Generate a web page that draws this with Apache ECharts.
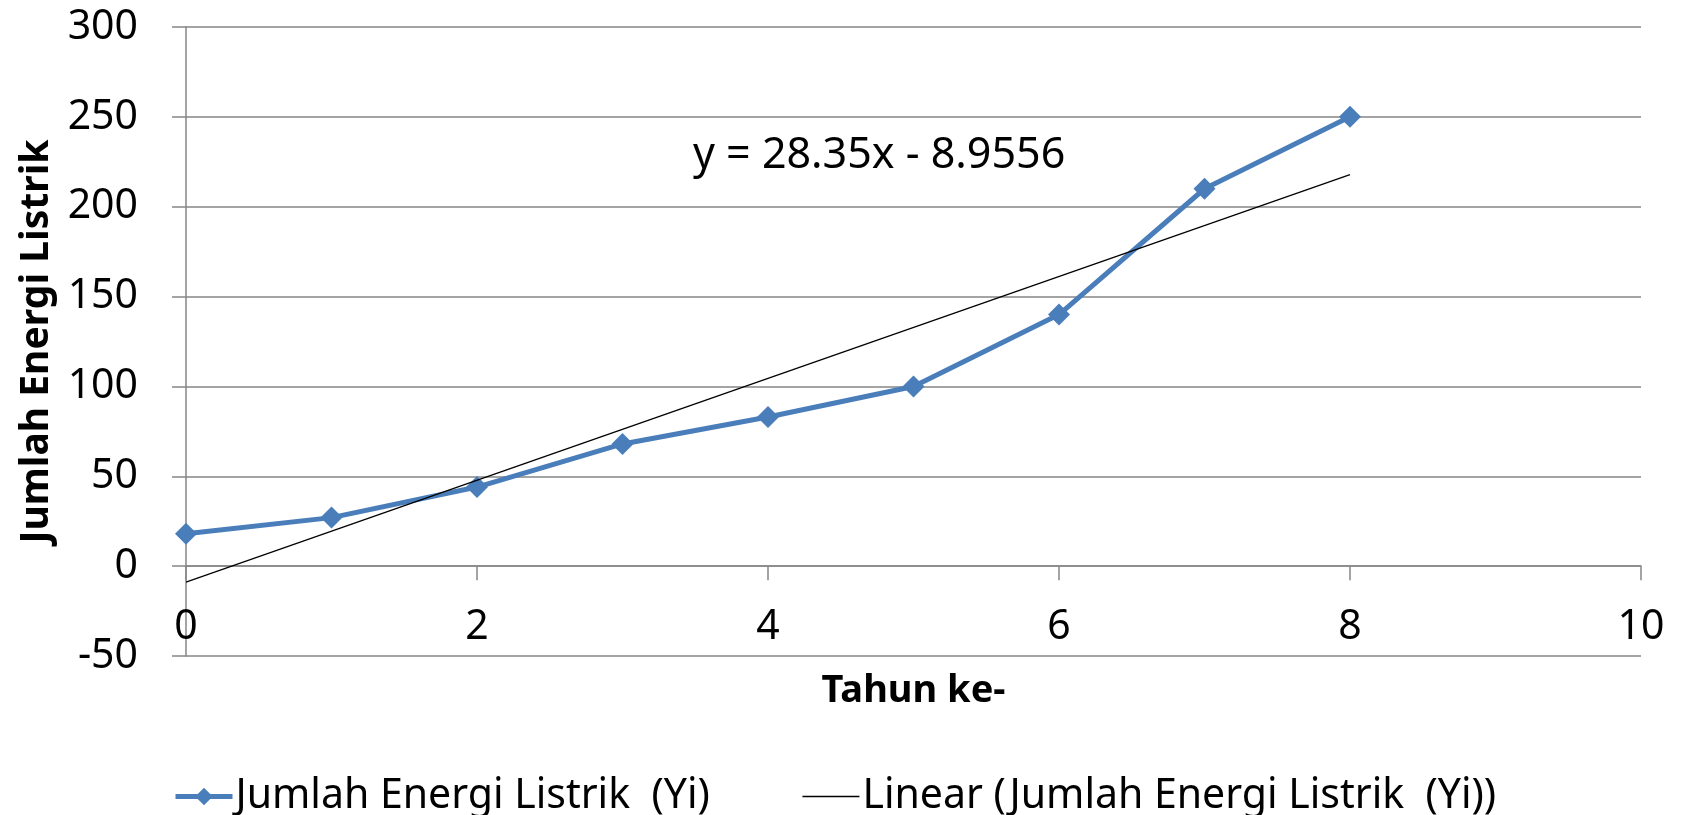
<!DOCTYPE html>
<html>
<head>
<meta charset="utf-8">
<script src="https://cdn.jsdelivr.net/npm/echarts@6/dist/echarts.min.js"></script>
<style>
html,body{margin:0;padding:0;background:#fff;}
#chart{width:1684px;height:815px;}
</style>
</head>
<body>
<div id="chart"></div>
<script>
// Data
const years = [0, 1, 2, 3, 4, 5, 6, 7, 8];
const energy = [18, 27, 44, 68, 83, 100, 140, 210, 250];
const seriesName = 'Jumlah Energi Listrik  (Yi)';
const trendName = 'Linear (Jumlah Energi Listrik  (Yi))';
const equationText = 'y = 28.35x - 8.9556';
const xTitle = 'Tahun ke-';
const yTitle = 'Jumlah Energi Listrik';

// least-squares trendline from the data
const n = years.length;
const mx = years.reduce((a, b) => a + b, 0) / n;
const my = energy.reduce((a, b) => a + b, 0) / n;
let sxy = 0, sxx = 0;
for (let i = 0; i < n; i++) { sxy += (years[i] - mx) * (energy[i] - my); sxx += (years[i] - mx) ** 2; }
const slope = sxy / sxx;
const intercept = my - slope * mx;
const xFirst = years[0], xLast = years[n - 1];
const trendData = [[xFirst, slope * xFirst + intercept], [xLast, slope * xLast + intercept]];
const mainData = years.map((x, i) => [x, energy[i]]);

const FONT = "'Noto Sans', sans-serif";
const chart = echarts.init(document.getElementById('chart'), null, {renderer: 'canvas'});
chart.setOption({
  animation: false,
  backgroundColor: '#ffffff',
  textStyle: {fontFamily: FONT, color: '#000'},
  grid: {left: 186, right: 43, top: 27, bottom: 159},
  xAxis: {
    type: 'value', min: 0, max: 10, interval: 2,
    name: xTitle, nameLocation: 'middle', nameGap: 16,
    nameTextStyle: {fontFamily: FONT, fontSize: 38, fontWeight: 'bold', color: '#000'},
    axisLine: {show: true, onZero: true, lineStyle: {color: '#868686', width: 1.5}},
    axisTick: {show: true, length: 14, lineStyle: {color: '#868686', width: 1.5}},
    axisLabel: {fontFamily: FONT, fontSize: 41, color: '#000', margin: -49},
    splitLine: {show: false}
  },
  yAxis: {
    type: 'value', min: -50, max: 300, interval: 50,
    name: yTitle, nameLocation: 'middle', nameGap: 128,
    nameTextStyle: {fontFamily: FONT, fontSize: 39, fontWeight: 'bold', color: '#000'},
    axisLine: {show: true, lineStyle: {color: '#868686', width: 1.5}},
    axisTick: {show: true, length: 14, lineStyle: {color: '#868686', width: 1.5}},
    axisLabel: {fontFamily: FONT, fontSize: 41, color: '#000', margin: 48},
    splitLine: {show: true, lineStyle: {color: '#868686', width: 1.5}}
  },
  legend: {
    left: 168, top: 771,
    itemWidth: 57, itemHeight: 22, itemGap: 92,
    textStyle: {fontFamily: FONT, fontSize: 41, color: '#000', padding: [0, 0, 0, -2]},
    data: [
      {name: seriesName, lineStyle: {width: 5}},
      {name: trendName, itemStyle: {opacity: 0}, lineStyle: {width: 1.3}}
    ]
  },
  graphic: [{
    type: 'text', left: 693, top: 134,
    style: {text: equationText, font: "43px 'Noto Sans', sans-serif", fill: '#000'}
  }],
  series: [
    {
      name: seriesName, type: 'line', data: mainData,
      symbol: 'diamond', symbolSize: 22, showSymbol: true,
      itemStyle: {color: '#4A7EBB'},
      lineStyle: {color: '#4A7EBB', width: 5},
      z: 2
    },
    {
      name: trendName, type: 'line', data: trendData,
      symbol: 'none',
      itemStyle: {color: '#000'},
      lineStyle: {color: '#000', width: 1.3},
      z: 3
    }
  ]
});
</script>
</body>
</html>
